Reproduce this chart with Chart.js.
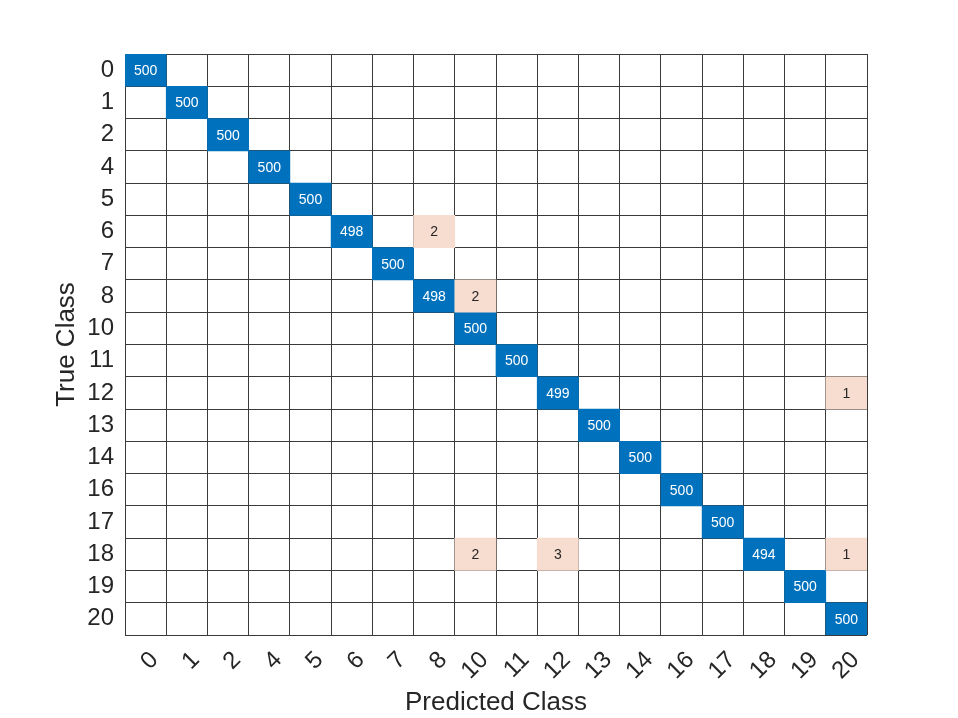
<!DOCTYPE html>
<html lang="en">
<head>
<meta charset="UTF-8">
<title>Confusion Matrix</title>
<script src="https://cdn.jsdelivr.net/npm/chart.js"></script>
<style>
  html, body { margin: 0; padding: 0; background: #fff; }
  #wrap { width: 958px; height: 718px; }
</style>
</head>
<body>
<div id="wrap"><canvas id="cm"></canvas></div>
<script>
// class labels (same order on both axes)
const classes = ['0', '1', '2', '4', '5', '6', '7', '8', '10', '11', '12', '13', '14', '16', '17', '18', '19', '20'];
// correct predictions, one per true class
const diagonal = [500, 500, 500, 500, 500, 498, 500, 498, 500, 500, 499, 500, 500, 500, 500, 494, 500, 500];
// misclassifications: true class -> predicted class
const offTrue = ['6', '8', '12', '18', '18', '18'];
const offPred = ['8', '10', '20', '10', '12', '20'];
const offCount = [2, 2, 1, 2, 3, 1];

const BLUE = '#0072BD';
const PEACH = '#F7DCD0';
const INK = '#262626';
const LINE = '#3a3a3a';
const FONT = '"Liberation Sans", Arial, sans-serif';

const n = classes.length;
const counts = classes.map((c, i) => classes.map((d, j) => (i === j ? diagonal[i] : 0)));
offTrue.forEach((t, k) => {
    counts[classes.indexOf(t)][classes.indexOf(offPred[k])] = offCount[k];
});

// one floating-bar dataset per true class row
const datasets = counts.map((row, i) => ({
    label: classes[i],
    data: row.map(v => (v ? [i - 0.5, i + 0.5] : null)),
    backgroundColor: row.map((v, j) => (i === j ? BLUE : PEACH)),
    counts: row
}));

const cellLabels = {
    id: 'cellLabels',
    afterDatasetsDraw(chart) {
        const ctx = chart.ctx;
        ctx.save();
        ctx.font = '14px ' + FONT;
        ctx.textAlign = 'center';
        ctx.textBaseline = 'middle';
        chart.data.datasets.forEach((ds, i) => {
            chart.getDatasetMeta(i).data.forEach((el, j) => {
                const v = ds.counts[j];
                if (!v) return;
                const p = el.getCenterPoint();
                ctx.fillStyle = i === j ? '#ffffff' : INK;
                ctx.fillText(String(v), p.x, p.y + 1);
            });
        });
        ctx.restore();
    }
};

const range = { min: -0.5, max: n - 0.5 };

new Chart(document.getElementById('cm'), {
    type: 'bar',
    data: { labels: classes, datasets: datasets },
    options: {
        responsive: true,
        maintainAspectRatio: false,
        animation: false,
        devicePixelRatio: 1,
        layout: { padding: { top: 54, right: 91, left: 0, bottom: 0 } },
        datasets: {
            bar: { grouped: false, categoryPercentage: 1, barPercentage: 1, borderWidth: 0 }
        },
        plugins: { legend: { display: false }, tooltip: { enabled: false } },
        scales: {
            x: {
                type: 'category',
                z: 1,
                grid: { offset: true, color: LINE, drawTicks: false },
                border: { display: false },
                ticks: {
                    color: INK,
                    font: { size: 24, family: FONT },
                    autoSkip: false,
                    minRotation: 45,
                    maxRotation: 45,
                    padding: 11,
                    labelOffset: 9
                },
                title: {
                    display: true,
                    text: 'Predicted Class',
                    color: INK,
                    font: { size: 26, family: FONT },
                    padding: { top: 0, bottom: 0 }
                },
                afterFit(scale) { scale.height = 83; }
            },
            y: {
                type: 'linear',
                reverse: true,
                min: range.min,
                max: range.max,
                grid: { display: false, drawTicks: false },
                border: { display: false },
                afterBuildTicks(scale) { scale.ticks = classes.map((c, i) => ({ value: i })); },
                ticks: {
                    color: INK,
                    font: { size: 24, family: FONT },
                    padding: 11,
                    callback: v => classes[v]
                },
                title: {
                    display: true,
                    text: 'True Class',
                    color: INK,
                    font: { size: 26, family: FONT },
                    padding: { top: 51, bottom: 0 }
                },
                afterFit(scale) { scale.width = 125; }
            },
            yGrid: {
                type: 'linear',
                position: 'left',
                reverse: true,
                min: range.min,
                max: range.max,
                z: 1,
                grid: { color: LINE, drawTicks: false },
                border: { display: false },
                afterBuildTicks(scale) {
                    scale.ticks = classes.concat(['']).map((c, i) => ({ value: i - 0.5 }));
                },
                ticks: { display: false },
                afterFit(scale) { scale.width = 0; }
            }
        }
    },
    plugins: [cellLabels]
});
</script>
</body>
</html>
